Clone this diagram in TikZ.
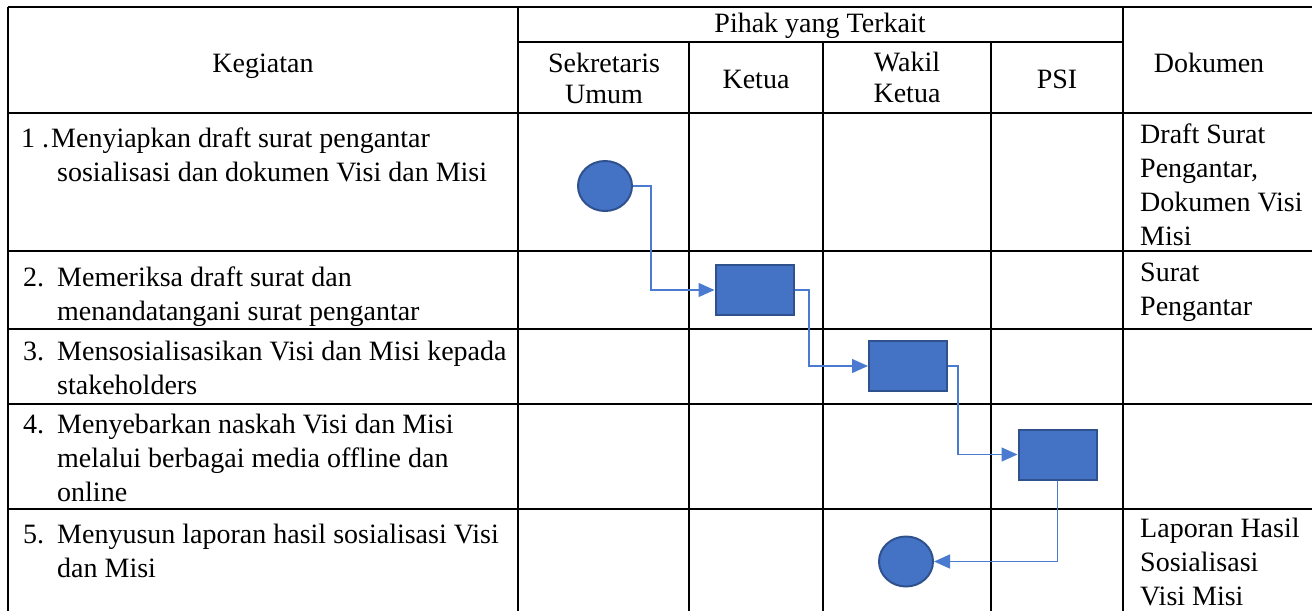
\documentclass[tikz,border=0pt]{standalone}
\usepackage{fontspec}
\setmainfont{Liberation Serif}
\usetikzlibrary{arrows.meta,shapes.geometric}
\definecolor{boxfill}{HTML}{4472C4}
\definecolor{boxedge}{HTML}{2F528F}
\definecolor{flow}{HTML}{4A7BD0}
\begin{document}
\begin{tikzpicture}[x=1pt,y=-1pt,
  grid/.style={line width=1.8pt,black},
  txt/.style={font=\fontsize{28}{34}\selectfont, inner sep=0pt, anchor=base west, align=left},
  ctxt/.style={font=\fontsize{28}{34}\selectfont, inner sep=0pt, anchor=base},
  endpt/.style={ellipse, fill=boxfill, draw=boxedge, line width=2pt, minimum width=54pt, minimum height=50pt, inner sep=0pt},
  act/.style={rectangle, fill=boxfill, draw=boxedge, line width=2pt, minimum width=78pt, minimum height=50pt, inner sep=0pt},
  flowline/.style={draw=flow, line width=1.4pt, -{Triangle[length=16pt,width=14pt]}}
]
\useasboundingbox (0,0) rectangle (1312,611);
% grid
\draw[grid] (8,7) -- (1312,7);
\draw[grid] (518,42) -- (1123,42);
\foreach \yy in {113,251,329,404,509} {\draw[grid] (8,\yy) -- (1312,\yy);}
\foreach \xx in {8,518,1123} {\draw[grid] (\xx,7) -- (\xx,611);}
\foreach \xx in {689,823,991} {\draw[grid] (\xx,42) -- (\xx,611);}
% header
\node[ctxt] (hkeg) at (263,72) {Kegiatan};
\node[ctxt] (hpihak) at (820,32) {Pihak yang Terkait};
\node[ctxt] (hsek1) at (604,72) {Sekretaris};
\node[ctxt] (hsek2) at (604,103) {Umum};
\node[ctxt] (hket) at (756,88) {Ketua};
\node[ctxt] (hwak1) at (907,71) {Wakil};
\node[ctxt] (hwak2) at (907,102) {Ketua};
\node[ctxt] (hpsi) at (1057,88) {PSI};
\node[ctxt] (hdok) at (1209,72) {Dokumen};
% kegiatan (anchor = baseline of last line)
\node[txt] (n1) at (21,147) {1 .};
\node[txt] (k1a) at (51,147) {Menyiapkan draft surat pengantar};
\node[txt] (k1b) at (57,181) {sosialisasi dan dokumen Visi dan Misi};
\node[txt] (n2) at (23,286) {2.};
\node[txt] (k2) at (57,320) {Memeriksa draft surat dan\\menandatangani surat pengantar};
\node[txt] (n3) at (23,360) {3.};
\node[txt] (k3) at (57,394) {Mensosialisasikan Visi dan Misi kepada\\stakeholders};
\node[txt] (n4) at (23,433) {4.};
\node[txt] (k4) at (57,501) {Menyebarkan naskah Visi dan Misi\\melalui berbagai media offline dan\\online};
\node[txt] (n5) at (23,543) {5.};
\node[txt] (k5) at (57,577) {Menyusun laporan hasil sosialisasi Visi\\dan Misi};
% dokumen
\node[txt] (d1) at (1140,245) {Draft Surat\\Pengantar,\\Dokumen Visi\\Misi};
\node[txt] (d2) at (1140,315) {Surat\\Pengantar};
\node[txt] (d5) at (1140,605) {Laporan Hasil\\Sosialisasi\\Visi Misi};
% flow
\node[endpt] (c1) at (605,186) {};
\node[act] (r1) at (754.5,290) {};
\node[act] (r2) at (908,366) {};
\node[act] (r3) at (1057.5,454.5) {};
\node[endpt] (c2) at (906,561.5) {};
\coordinate (b1) at (651,240);
\coordinate (b2) at (809,330);
\coordinate (b3) at (958,410);
\draw[flowline] (c1.east) -| (b1) |- (r1.west);
\draw[flowline] (r1.east) -| (b2) |- (r2.west);
\draw[flowline] (r2.east) -| (b3) |- (r3.west);
\draw[flowline] (r3.south) |- (c2.east);
\end{tikzpicture}
\end{document}
